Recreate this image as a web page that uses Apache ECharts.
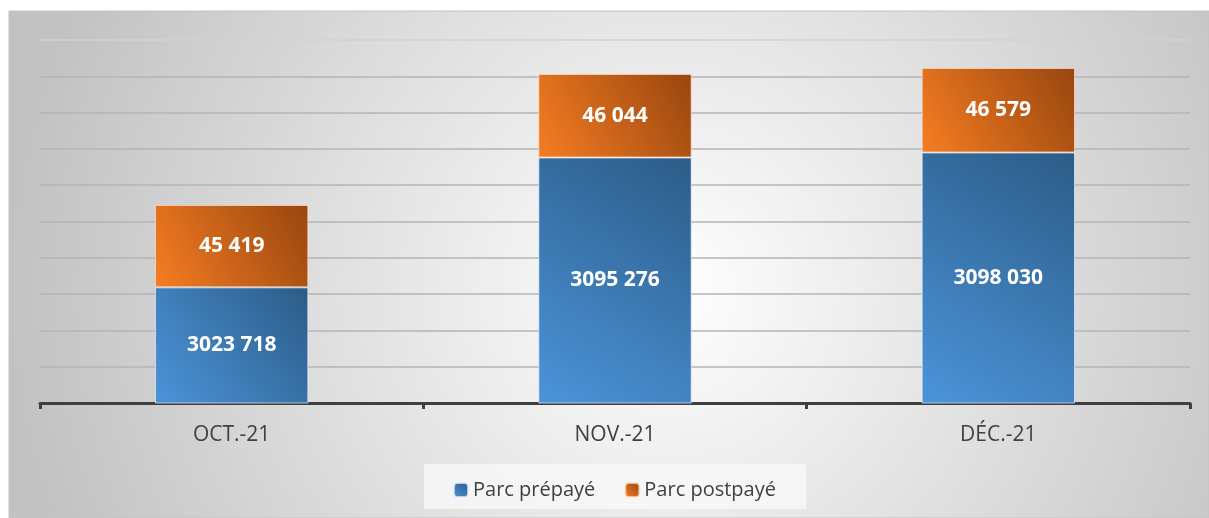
<!DOCTYPE html>
<html>
<head>
<meta charset="utf-8">
<script src="https://cdn.jsdelivr.net/npm/echarts@6/dist/echarts.min.js"></script>
<style>
html,body{margin:0;padding:0;background:#fff;}
#c{width:1209px;height:518px;}
</style>
</head>
<body>
<div id="c"></div>
<script>
const categories = ['OCT.-21', 'NOV.-21', 'DÉC.-21'];
const prepaye = [3023718, 3095276, 3098030];
const postpaye = [45419, 46044, 46579];
const seriesNames = ['Parc prépayé', 'Parc postpayé'];

function fmt(v) {
  const s = String(v);
  return s.length > 3 ? s.slice(0, s.length - 3) + ' ' + s.slice(-3) : s;
}

const chart = echarts.init(document.getElementById('c'), null, {renderer: 'canvas'});
const blueGrad = new echarts.graphic.LinearGradient(0, 1, 1, 0, [
  {offset: 0, color: '#4b94da'}, {offset: 1, color: '#2c5c87'}
]);
const orangeGrad = new echarts.graphic.LinearGradient(0, 1, 1, 0, [
  {offset: 0, color: '#f67d22'}, {offset: 1, color: '#98460f'}
]);
const labelStyle = {
  show: true, position: 'inside', color: '#ffffff',
  fontFamily: 'Open Sans', fontWeight: 'bold', fontSize: 21,
  formatter: p => fmt(p.value)
};
const gridColors = ['#b5b5b5','#b5b5b5','#b5b5b5','#b5b5b5','#b5b5b5','#b5b5b5','#b5b5b5','#b5b5b5','#b5b5b5','#b5b5b5','#d2d2d2'];
chart.setOption({
  animation: false,
  textStyle: {fontFamily: 'Open Sans'},
  graphic: [
    {type: 'rect', z: -10, silent: true, shape: {x: 9, y: 11, width: 1200, height: 507},
     style: {fill: new echarts.graphic.RadialGradient(0.55, 0.55, 1.3, [
       {offset: 0, color: '#ffffff'}, {offset: 1, color: '#c2c2c2'}
     ]), stroke: '#c4c4c4', lineWidth: 1}},
    {type: 'rect', z: -9, silent: true, shape: {x: 424, y: 464, width: 382, height: 45},
     style: {fill: 'rgba(250,250,250,0.75)'}}
  ],
  grid: {left: 40, right: 19, top: 40, bottom: 115},
  legend: {
    left: 448, top: 475, itemWidth: 14, itemHeight: 14, itemGap: 29,
    textStyle: {color: '#404040', fontSize: 20, fontFamily: 'Open Sans'},
    data: seriesNames
  },
  xAxis: {
    type: 'category', data: categories,
    axisLine: {lineStyle: {color: '#3f3f3f', width: 3}},
    axisTick: {show: true, length: 6, lineStyle: {color: '#3f3f3f', width: 3}},
    axisLabel: {color: '#404040', fontSize: 21, margin: 22, fontFamily: 'Open Sans'}
  },
  yAxis: {
    type: 'value', min: 2960000, max: 3160000, interval: 20000,
    axisLabel: {show: false}, axisLine: {show: false}, axisTick: {show: false},
    splitLine: {lineStyle: {color: gridColors, width: 1.5}}
  },
  series: [
    {name: seriesNames[0], type: 'bar', stack: 'a', barWidth: '40%', data: prepaye,
     itemStyle: {color: blueGrad, borderColor: 'rgba(230,240,255,0.7)', borderWidth: 1},
     label: labelStyle},
    {name: seriesNames[1], type: 'bar', stack: 'a', barWidth: '40%', data: postpaye,
     itemStyle: {color: orangeGrad, borderColor: 'rgba(255,225,200,0.7)', borderWidth: 1},
     label: labelStyle}
  ]
});
</script>
</body>
</html>
